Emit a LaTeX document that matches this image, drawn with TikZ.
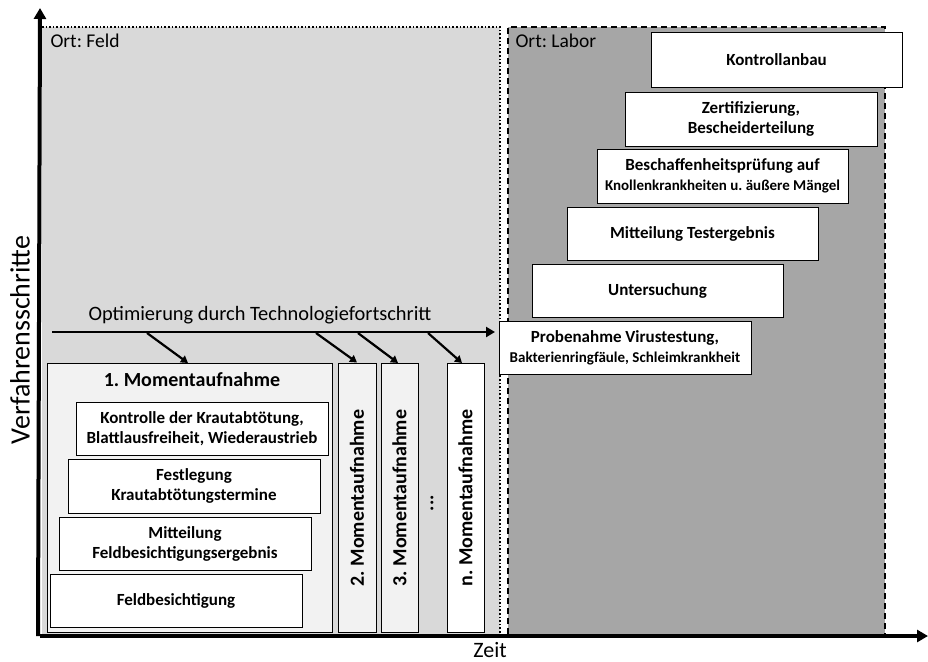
\documentclass[tikz,border=0pt]{standalone}
\usepackage{fontspec}
\setmainfont{Carlito}
\usetikzlibrary{arrows.meta}
\frenchspacing
\begin{document}
\begin{tikzpicture}[x=1pt,y=-1pt,
  box/.style={draw=black,line width=1pt,fill=white,align=center,font=\bfseries\fontsize{17}{20}\selectfont,inner sep=0pt},
  axis/.style={line width=4pt,-{Triangle[length=11pt,width=12pt]}},
  darr/.style={line width=2.2pt,-{Triangle[length=7pt,width=8pt]}},
  vlab/.style={rotate=90,font=\bfseries\fontsize{20}{22}\selectfont}]
\useasboundingbox (0,0) rectangle (928,661);
% regions
\fill[black!15] (42,27) rectangle (500,634);
\fill[black!35] (508,27) rectangle (885,634);
\draw[line width=1.6pt,dotted] (42,27) -- (500,27) -- (500,634);
\draw[line width=1.4pt,dash pattern=on 6pt off 4pt] (508,634) -- (508,27) -- (885,27) -- (885,634);
\node[anchor=west,font=\fontsize{19.5}{22}\selectfont] (ortf) at (47,41) {Ort: Feld};
\node[anchor=west,font=\fontsize{19.5}{22}\selectfont] (ortl) at (512,41) {Ort: Labor};
% labor boxes
\node[box,minimum width=251pt,minimum height=54pt] (k) at (776.5,60) {Kontrollanbau};
\node[box,minimum width=252pt,minimum height=54pt] (z) at (751,119) {Zertifizierung,\\Bescheiderteilung};
\node[box,minimum width=251pt,minimum height=54pt] (b) at (722.5,176) {Beschaffenheitsprüfung auf\\{\fontsize{15}{18}\selectfont Knollenkrankheiten u. äußere Mängel}};
\node[box,minimum width=251pt,minimum height=53pt] (m) at (692.5,233.5) {Mitteilung Testergebnis};
\node[box,minimum width=251pt,minimum height=53pt] (u) at (657.5,290.5) {Untersuchung};
\node[box,minimum width=252pt,minimum height=53pt] (p) at (625,347.5) {Probenahme Virustestung,\\{\fontsize{15}{18}\selectfont Bakterienringfäule, Schleimkrankheit}};
% optimisation arrow
\coordinate (o1) at (52,332);
\coordinate (o2) at (495,332);
\node[font=\fontsize{20.4}{23}\selectfont] (opt) at (260,315) {Optimierung durch Technologiefortschritt};
\draw[line width=2.6pt,-{Triangle[length=9pt,width=10pt]}] (o1) -- (o2);
% snapshots
\node[draw=black,line width=1pt,fill=black!5,minimum width=285pt,minimum height=269pt,inner sep=0pt] (s1) at (189.5,497.5) {};
\node[font=\bfseries\fontsize{20}{22}\selectfont] (t1) at (192,380) {1. Momentaufnahme};
\node[box,minimum width=252pt,minimum height=53pt] (c1) at (202,428.5) {Kontrolle der Krautabtötung,\\Blattlausfreiheit, Wiederaustrieb};
\node[box,minimum width=252pt,minimum height=54pt] (c2) at (194,486) {Festlegung\\Krautabtötungstermine};
\node[box,minimum width=252pt,minimum height=53pt] (c3) at (185,543.5) {Mitteilung\\Feldbesichtigungsergebnis};
\node[box,minimum width=252pt,minimum height=53pt] (c4) at (176,600.5) {Feldbesichtigung};
\node[draw=black,line width=1pt,fill=black!5,minimum width=38pt,minimum height=269pt,inner sep=0pt] (s2) at (357,497.5) {};
\node[draw=black,line width=1pt,fill=black!5,minimum width=37pt,minimum height=269pt,inner sep=0pt] (s3) at (399.5,497.5) {};
\node[draw=black,line width=1pt,fill=white,minimum width=37pt,minimum height=269pt,inner sep=0pt] (sn) at (465.5,497.5) {};
\node[vlab] (l2) at (357,498) {2. Momentaufnahme};
\node[vlab] (l3) at (399.5,498) {3. Momentaufnahme};
\node[vlab] (ln) at (465.5,498) {n. Momentaufnahme};
\node[vlab] (dots) at (432,503) {...};
% diagonal arrows
\coordinate (d1) at (147,333);
\coordinate (d2) at (316,333);
\coordinate (d3) at (358,333);
\coordinate (dn) at (428,333);
\draw[darr] (d1) -- (188,363);
\draw[darr] (d2) -- (s2.north);
\draw[darr] (d3) -- (398,363);
\draw[darr] (dn) -- (462,363);
% axes
\coordinate (origin) at (40,636);
\coordinate (ytop) at (40,8);
\coordinate (xend) at (928,636);
\draw[axis] (38,636) -- (ytop);
\draw[axis] (origin) -- (xend);
\node[rotate=90,font=\fontsize{28}{30}\selectfont] (ylab) at (20,340) {Verfahrensschritte};
\node[anchor=base,font=\fontsize{22}{24}\selectfont,inner sep=0pt] (xlab) at (490,657) {Zeit};
\end{tikzpicture}
\end{document}
